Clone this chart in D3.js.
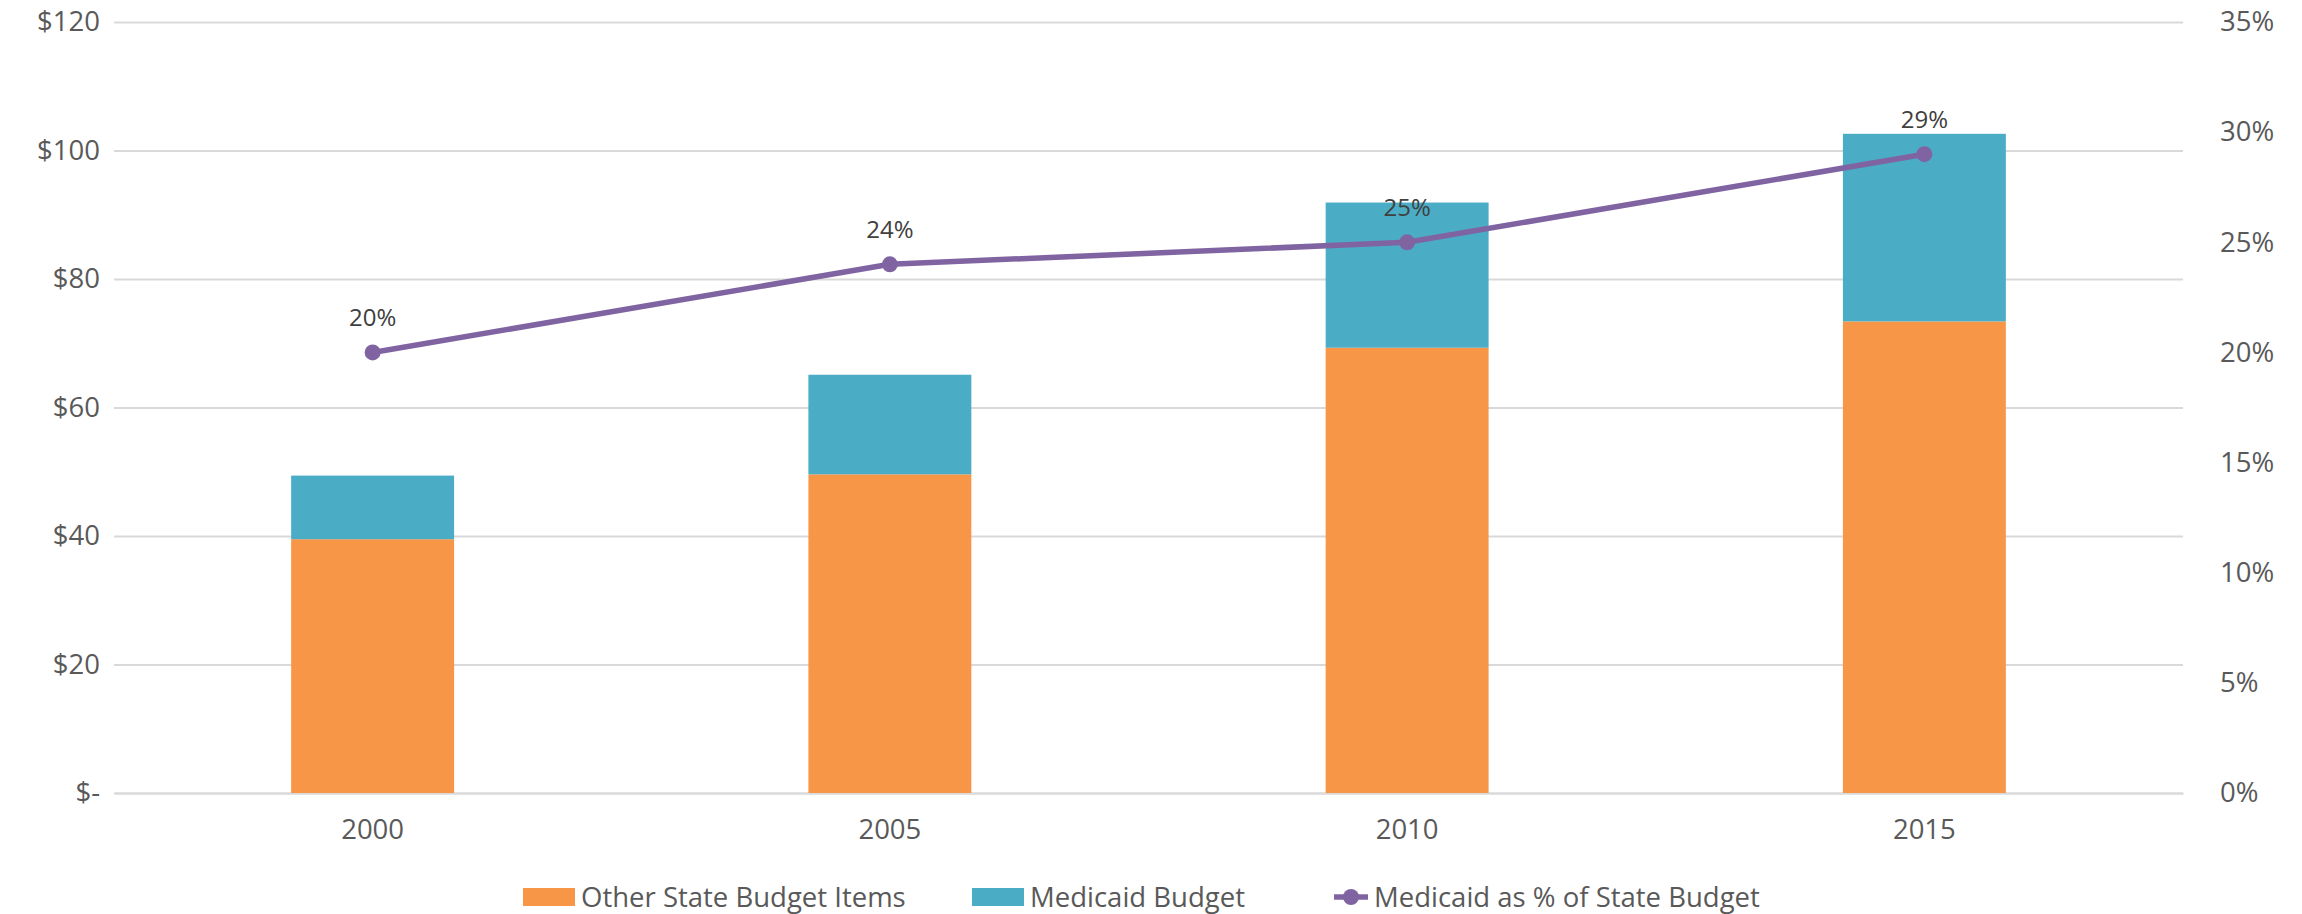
<!DOCTYPE html>
<html>
<head>
<meta charset="utf-8">
<script src="https://cdn.jsdelivr.net/npm/d3@7"></script>
<style>
  body { margin: 0; background: #fff; }
  text { font-family: "Open Sans", sans-serif; }
</style>
</head>
<body>
<svg id="chart"></svg>
<script>
const years = ['2000', '2005', '2010', '2015'];
const otherBudget = [39.5, 49.6, 69.3, 73.4];
const medicaidBudget = [9.9, 15.5, 22.6, 29.2];
const medicaidPct = [20, 24, 25, 29];
const leftTicks = [0, 20, 40, 60, 80, 100, 120];
const rightTicks = [0, 5, 10, 15, 20, 25, 30, 35];
const seriesNames = ['Other State Budget Items', 'Medicaid Budget', 'Medicaid as % of State Budget'];

const colors = { other: '#F79646', medicaid: '#4BACC6', pct: '#8064A2' };
const W = 2302, H = 914;
const plot = { left: 114, right: 2183, top: 22, bottom: 793 };

const svg = d3.select('#chart').attr('width', W).attr('height', H);

const x = d3.scaleBand()
  .domain(years)
  .range([plot.left, plot.right])
  .paddingInner(0.685)
  .paddingOuter(0.3425);

const y = d3.scaleLinear().domain([0, 120]).range([plot.bottom, plot.top]);
const yPct = d3.scaleLinear().domain([0, 35]).range([plot.bottom, plot.top]);

// gridlines + left axis
svg.append('g')
  .attr('transform', `translate(${plot.left},0)`)
  .call(d3.axisLeft(y).tickValues(leftTicks).tickSize(-(plot.right - plot.left)).tickPadding(14)
    .tickFormat(d => d === 0 ? '$-    ' : '$' + d))
  .call(g => g.select('.domain').remove())
  .call(g => g.selectAll('line').attr('stroke', '#d9d9d9').attr('stroke-width', 2))
  .call(g => g.selectAll('text').attr('fill', '#595959').style('font-size', '27.5px'));

// right axis
svg.append('g')
  .attr('transform', `translate(${plot.right},0)`)
  .call(d3.axisRight(yPct).tickValues(rightTicks).tickSize(0).tickPadding(37).tickFormat(d => d + '%'))
  .call(g => g.select('.domain').remove())
  .call(g => g.selectAll('text').attr('fill', '#595959').style('font-size', '27.5px'));

// x axis
svg.append('g')
  .attr('transform', `translate(0,${plot.bottom})`)
  .call(d3.axisBottom(x).tickSize(0).tickPadding(26))
  .call(g => g.select('.domain').attr('stroke', '#d9d9d9').attr('stroke-width', 2))
  .call(g => g.selectAll('text').attr('fill', '#595959').style('font-size', '27.5px'));

// stacked bars
const stackData = years.map((yr, i) => ({ year: yr, other: otherBudget[i], medicaid: medicaidBudget[i] }));
const stacked = d3.stack().keys(['other', 'medicaid'])(stackData);

svg.append('g').selectAll('g')
  .data(stacked)
  .enter().append('g')
  .attr('fill', d => colors[d.key])
  .selectAll('rect')
  .data(d => d)
  .enter().append('rect')
  .attr('x', d => x(d.data.year))
  .attr('y', d => y(d[1]))
  .attr('width', x.bandwidth())
  .attr('height', d => y(d[0]) - y(d[1]));

// line
const pts = years.map((yr, i) => ({ year: yr, v: medicaidPct[i] }));
const cx = d => x(d.year) + x.bandwidth() / 2;

svg.append('path')
  .datum(pts)
  .attr('fill', 'none')
  .attr('stroke', colors.pct)
  .attr('stroke-width', 5.5)
  .attr('stroke-linejoin', 'round')
  .attr('d', d3.line().x(cx).y(d => yPct(d.v)));

svg.selectAll('.pt')
  .data(pts)
  .enter().append('circle')
  .attr('cx', cx)
  .attr('cy', d => yPct(d.v))
  .attr('r', 8)
  .attr('fill', colors.pct);

svg.selectAll('.lbl')
  .data(pts)
  .enter().append('text')
  .attr('x', cx)
  .attr('y', d => yPct(d.v) - 26)
  .attr('text-anchor', 'middle')
  .attr('fill', '#404040')
  .style('font-size', '24px')
  .text(d => d.v + '%');

// legend
const legY = 897;
const leg = svg.append('g');
leg.append('rect').attr('x', 523).attr('y', legY - 9).attr('width', 52).attr('height', 18).attr('fill', colors.other);
leg.append('text').attr('x', 581).attr('y', legY).attr('dy', '0.35em').attr('fill', '#595959').style('font-size', '27.5px').text(seriesNames[0]);
leg.append('rect').attr('x', 972).attr('y', legY - 9).attr('width', 52).attr('height', 18).attr('fill', colors.medicaid);
leg.append('text').attr('x', 1030).attr('y', legY).attr('dy', '0.35em').attr('fill', '#595959').style('font-size', '27.5px').text(seriesNames[1]);
leg.append('line').attr('x1', 1334).attr('x2', 1368).attr('y1', legY).attr('y2', legY).attr('stroke', colors.pct).attr('stroke-width', 5.5);
leg.append('circle').attr('cx', 1351).attr('cy', legY).attr('r', 8).attr('fill', colors.pct);
leg.append('text').attr('x', 1374).attr('y', legY).attr('dy', '0.35em').attr('fill', '#595959').style('font-size', '27.5px').text(seriesNames[2]);
</script>
</body>
</html>
